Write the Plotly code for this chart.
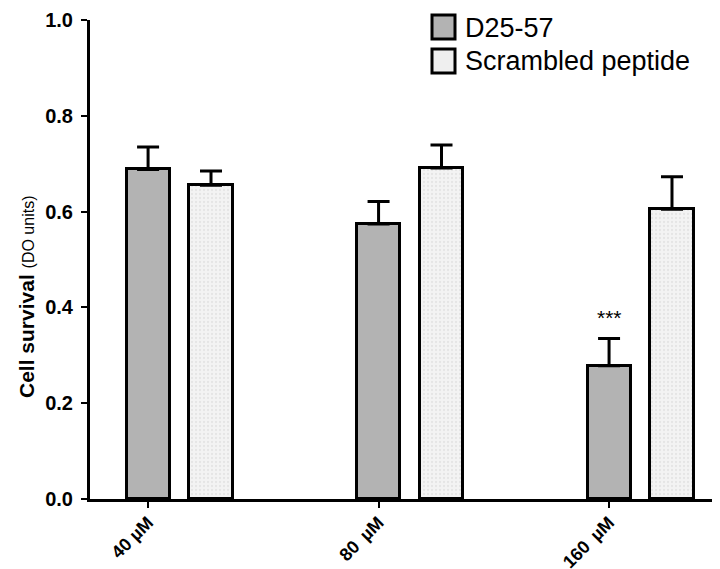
import plotly.graph_objects as go

categories = ["40 µM", "80\u2009 µM", "160\u2009 µM"]
d25_values = [0.688, 0.574, 0.278]
d25_errors = [0.047, 0.047, 0.057]
scr_values = [0.655, 0.691, 0.605]
scr_errors = [0.030, 0.048, 0.068]
series_names = ["D25-57", "Scrambled peptide"]
y_ticks = [0.0, 0.2, 0.4, 0.6, 0.8, 1.0]

CW, CH = 720, 569
L, R, T, B = 82, 717, 12, 491          # plot area in pixels
W, H = R - L, B - T

def px(x):
    return (x - L) / W

def py(y):
    return (B - y) / H

bar_w = 0.187
scr_shift = 0.273

fig = go.Figure()
fig.add_trace(go.Bar(
    x=categories, y=d25_values, name=series_names[0],
    width=bar_w, offset=-bar_w / 2,
    marker=dict(color="#b3b3b3", line=dict(color="black", width=3)),
    error_y=dict(type="data", array=d25_errors, arrayminus=[0] * 3, symmetric=False,
                 color="black", thickness=3, width=11),
    showlegend=False,
))
fig.add_trace(go.Bar(
    x=categories, y=scr_values, name=series_names[1],
    width=bar_w, offset=scr_shift - bar_w / 2,
    marker=dict(color="#efefef", line=dict(color="black", width=3),
                pattern=dict(shape=".", size=4, solidity=0.25,
                             fgcolor="#d6d6d6", bgcolor="#f3f3f3")),
    error_y=dict(type="data", array=scr_errors, arrayminus=[0] * 3, symmetric=False,
                 color="black", thickness=3, width=11),
    showlegend=False,
))

# significance mark
fig.add_annotation(x=categories[2], y=d25_values[2] + d25_errors[2], text="***",
                   showarrow=False, yanchor="bottom", yshift=8,
                   font=dict(family="Liberation Sans", size=21, color="black"))

# custom legend
legend_fill = ["#b3b3b3", "#efefef"]
legend_rows = [(7, 31, 20), (41, 65, 53)]
for name, fill, (y0, y1, yc) in zip(series_names, legend_fill, legend_rows):
    fig.add_shape(type="rect", xref="paper", yref="paper",
                  x0=px(424), x1=px(447), y0=py(y1), y1=py(y0),
                  fillcolor=fill, line=dict(color="black", width=3))
    fig.add_annotation(xref="paper", yref="paper", x=px(455), y=py(yc),
                       xanchor="left", yanchor="middle", text=name, showarrow=False,
                       font=dict(family="Liberation Sans", size=27, color="black"))

# y-axis title
fig.add_annotation(xref="paper", yref="paper", x=px(18), y=py(392),
                   xanchor="center", yanchor="bottom", textangle=-90, showarrow=False,
                   text="<b>Cell survival</b> <span style='font-size:16px'>(DO units)</span>",
                   font=dict(family="Liberation Sans", size=21, color="black"))

fig.update_layout(
    width=CW, height=CH,
    margin=dict(l=L, r=CW - R, t=T, b=CH - B, autoexpand=False),
    paper_bgcolor="white", plot_bgcolor="white",
    bargap=0, showlegend=False,
)
fig.update_xaxes(
    type="category", range=[-0.252, 2.503], automargin=False,
    showline=True, linecolor="black", linewidth=3,
    ticks="outside", ticklen=6, tickwidth=2, tickcolor="black",
    tickangle=-45, showgrid=False, ticklabelstandoff=-3,
    tickfont=dict(family="Liberation Sans", size=18, color="black", weight="bold"),
)
fig.update_yaxes(
    range=[0, 1.0], tickvals=y_ticks, tickformat=".1f", automargin=False,
    showline=True, linecolor="black", linewidth=3,
    ticks="outside", ticklen=6, tickwidth=2, tickcolor="black",
    showgrid=False, zeroline=False, ticklabelstandoff=4,
    tickfont=dict(family="Liberation Sans", size=20, color="black", weight="bold"),
)

fig.write_html("out.html")
